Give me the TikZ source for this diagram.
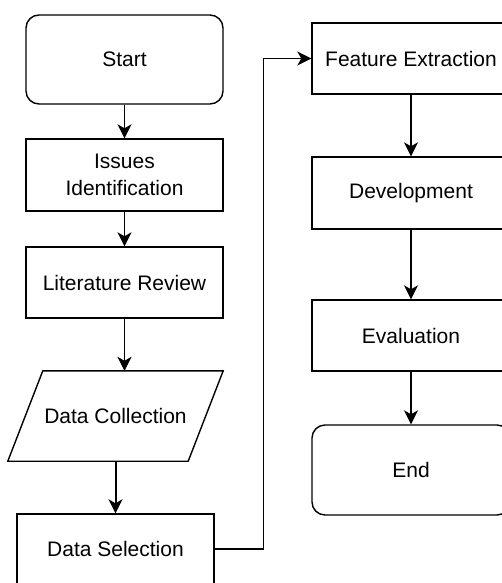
\documentclass[tikz,border=0pt]{standalone}
\usepackage{fontspec}
\setmainfont{Liberation Sans}
\usetikzlibrary{arrows.meta,calc}

\begin{document}
\begin{tikzpicture}[x=1pt,y=-1pt,
  font=\fontsize{21}{27.5}\selectfont,
  stepbox/.style={draw, line width=1.4pt, minimum width=197pt, align=center, inner sep=2pt},
  termbox/.style={stepbox, rounded corners=13pt},
  flow/.style={line width=1.1pt, -{Stealth[length=14pt,width=14pt,inset=4pt]}},
  boldflow/.style={flow, line width=2pt}
]
\clip (0,0) rectangle (502,583);
\fill[white] (0,0) rectangle (502,583);

% left column
\node[termbox, minimum height=89pt] (start) at (124.5,59.5) {Start};
\node[stepbox, minimum height=72pt] (issues) at (124.5,175) {Issues\\Identification};
\node[stepbox, minimum height=71pt] (lit) at (124.5,282.5) {Literature Review};
\node[minimum width=180pt, minimum height=90pt, inner sep=0pt] (dc) at (115.5,416) {Data Collection};
\draw[line width=1.4pt, line join=miter]
  ($(dc.north west)+(17.5,0)$) -- ($(dc.north east)+(17.5,0)$)
  -- ($(dc.south east)+(-17.5,0)$) -- ($(dc.south west)+(-17.5,0)$) -- cycle;
\node[stepbox, minimum height=70pt] (ds) at (115.5,549) {Data Selection};

% right column
\node[stepbox, minimum width=198pt, minimum height=71pt] (fe) at (411,58.5) {Feature Extraction};
\node[stepbox, minimum width=198pt, minimum height=72pt] (dev) at (411,193) {Development};
\node[stepbox, minimum width=198pt, minimum height=71pt] (eval) at (411,335.5) {Evaluation};
\node[termbox, minimum width=198pt, minimum height=90pt] (end) at (411,470) {End};

% connectors
\draw[flow] (start) -- (issues);
\draw[flow] (issues) -- (lit);
\draw[flow] (lit.south) -- (lit.south |- dc.north);
\draw[boldflow] (dc) -- (ds);
\draw[flow] (ds.east) -- ++(49,0) |- (fe.west);
\draw[flow] (fe) -- (dev);
\draw[flow] (dev) -- (eval);
\draw[flow] (eval) -- (end);
\end{tikzpicture}
\end{document}
